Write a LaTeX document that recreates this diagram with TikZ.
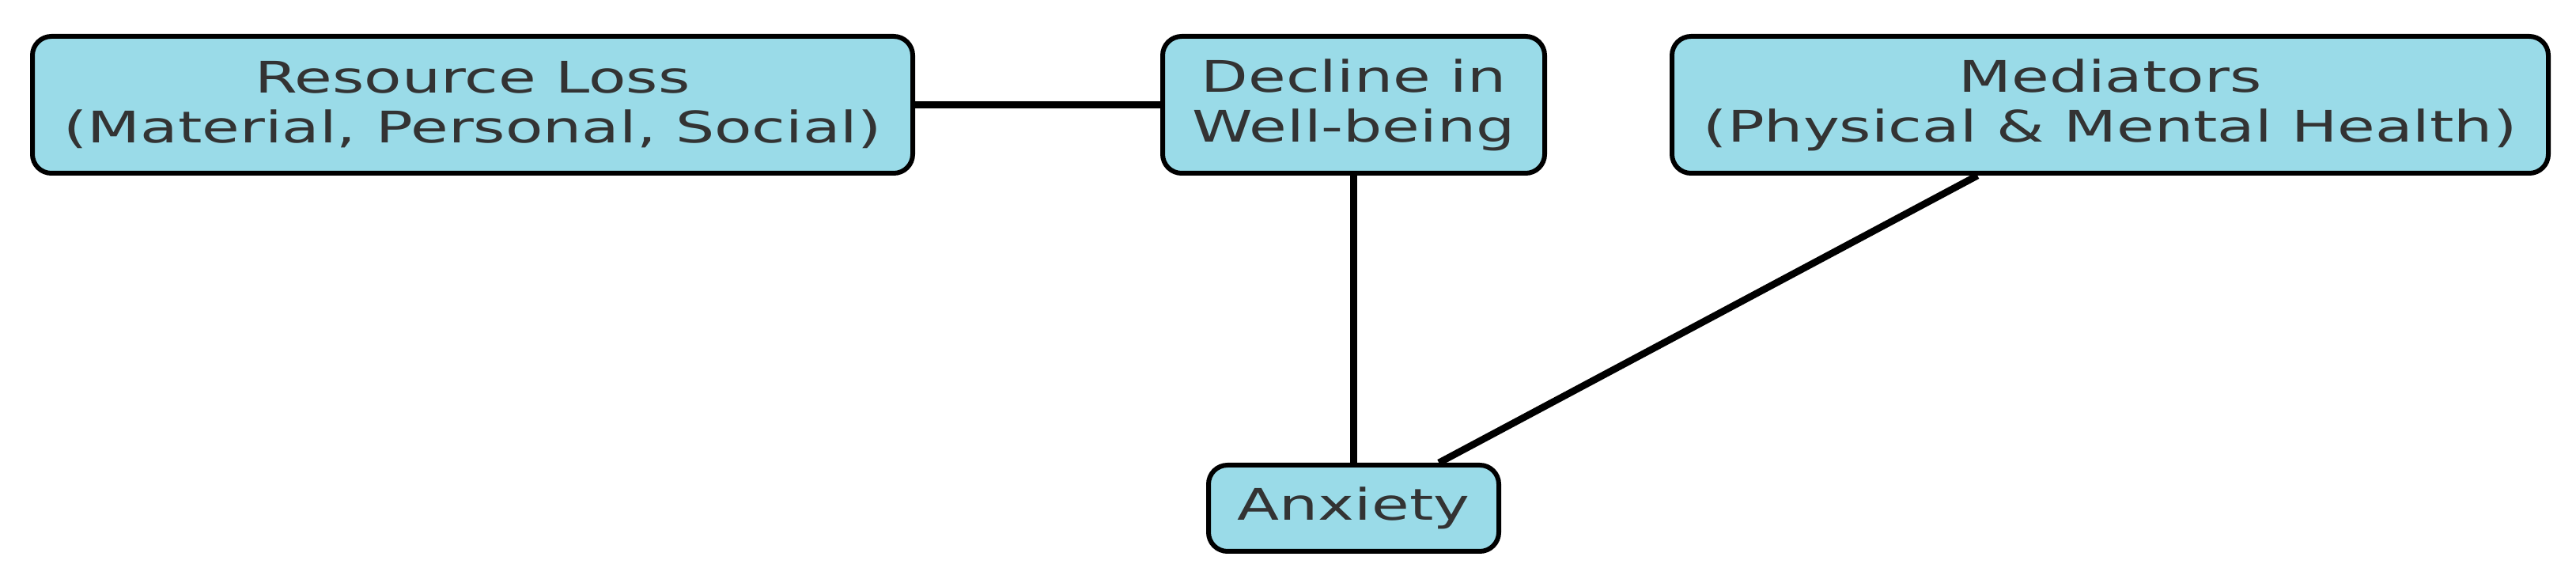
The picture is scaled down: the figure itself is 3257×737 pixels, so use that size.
\documentclass[tikz,border=0pt]{standalone}
\usepackage{fontspec}
\setmainfont{DejaVu Sans}[FakeStretch=1.41]
\definecolor{boxfill}{RGB}{154,219,232}
\definecolor{txt}{RGB}{51,51,51}
\tikzset{
  box/.style={draw=black, line width=1.5pt, fill=boxfill, rounded corners=6pt,
    align=center, inner sep=0pt, text=txt,
    font=\fontsize{13.75}{15.75}\selectfont},
  link/.style={draw=black, line width=2.2pt}
}
\begin{document}
\begin{tikzpicture}[x=0.25pt,y=-0.25pt]
\useasboundingbox (0,0) rectangle (3257,737);
\node[box, minimum width=1113*0.25pt, minimum height=173*0.25pt] (res) at (597.5,132.5) {Resource Loss\\(Material, Personal, Social)};
\node[box, minimum width=483*0.25pt, minimum height=173*0.25pt] (dec) at (1711.5,132.5) {Decline in\\Well-being};
\node[box, minimum width=1108*0.25pt, minimum height=173*0.25pt] (med) at (2668,132.5) {Mediators\\(Physical \& Mental Health)};
\node[box, minimum width=367*0.25pt, minimum height=109*0.25pt] (anx) at (1711.5,642.5) {Anxiety};
\draw[link] (res) -- (dec);
\draw[link] (dec) -- (anx);
\draw[link] (med) -- (anx);
\end{tikzpicture}
\end{document}
